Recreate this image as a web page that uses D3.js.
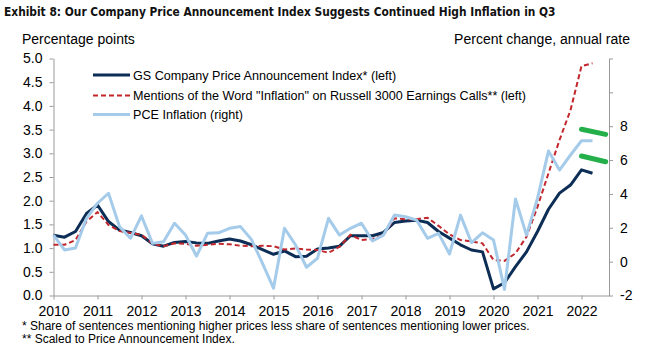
<!DOCTYPE html>
<html><head><meta charset="utf-8">
<script src="https://cdn.jsdelivr.net/npm/d3@7"></script>
<style>
html,body{margin:0;padding:0;background:#fff;}
svg{display:block;}
text{font-family:"Liberation Sans",Arial,Helvetica,sans-serif;fill:#000;}
</style></head><body>
<svg id="chart" width="649" height="355"></svg>
<script>
// ---- Data (quarterly) ----
const quarters = [
 "2010Q1","2010Q2","2010Q3","2010Q4",
 "2011Q1","2011Q2","2011Q3","2011Q4",
 "2012Q1","2012Q2","2012Q3","2012Q4",
 "2013Q1","2013Q2","2013Q3","2013Q4",
 "2014Q1","2014Q2","2014Q3","2014Q4",
 "2015Q1","2015Q2","2015Q3","2015Q4",
 "2016Q1","2016Q2","2016Q3","2016Q4",
 "2017Q1","2017Q2","2017Q3","2017Q4",
 "2018Q1","2018Q2","2018Q3","2018Q4",
 "2019Q1","2019Q2","2019Q3","2019Q4",
 "2020Q1","2020Q2","2020Q3","2020Q4",
 "2021Q1","2021Q2","2021Q3","2021Q4",
 "2022Q1","2022Q2"
];
// GS Company Price Announcement Index (left axis, percentage points)
const gsIndex = [
 1.27,1.23,1.35,1.73,
 1.91,1.56,1.38,1.33,
 1.26,1.09,1.04,1.12,
 1.14,1.11,1.10,1.15,
 1.19,1.15,1.07,0.97,
 0.87,0.94,0.82,0.83,
 0.98,1.00,1.04,1.26,
 1.26,1.26,1.33,1.54,
 1.57,1.59,1.54,1.35,
 1.21,1.07,0.96,0.92,
 0.14,0.27,0.61,0.92,
 1.35,1.82,2.16,2.33,
 2.65,2.58
];
// Mentions of "Inflation" on Russell 3000 earnings calls (left axis, scaled)
const inflationMentions = [
 1.07,1.07,1.17,1.56,
 1.76,1.49,1.36,1.32,
 1.28,1.10,1.04,1.10,
 1.09,1.05,1.07,1.09,
 1.08,1.05,1.04,1.05,
 1.04,0.97,0.99,0.97,
 0.96,0.90,1.03,1.28,
 1.17,1.19,1.28,1.63,
 1.61,1.61,1.64,1.47,
 1.29,1.17,1.14,1.10,
 0.75,0.73,0.89,1.24,
 1.87,2.58,3.28,3.91,
 4.84,4.90
];
// PCE inflation (right axis, % change annual rate)
const pceInflation = [
 1.57,0.69,0.80,2.56,
 3.45,4.04,2.07,1.38,
 2.70,1.08,1.18,2.27,
 1.57,0.33,1.67,1.70,
 1.97,2.07,1.30,-0.10,
 -1.57,1.97,0.99,-0.33,
 0.20,2.56,1.57,1.97,
 2.27,1.22,1.57,2.75,
 2.65,2.46,1.38,1.67,
 0.45,2.75,1.12,1.70,
 1.28,-1.64,3.70,1.57,
 3.74,6.54,5.41,6.30,
 7.14,7.14
];
// Green annotation marks (right-axis units)
const greenMarkX = [2022.0, 2022.55];
const greenMarkUpper = [7.82, 7.52];
const greenMarkLower = [6.24, 5.90];

const yearTicks = [2010,2011,2012,2013,2014,2015,2016,2017,2018,2019,2020,2021,2022];
const leftTicks = [0,0.5,1,1.5,2,2.5,3,3.5,4,4.5,5];
const rightTicks = [-2,0,2,4,6,8,10,12];
const rightTickLabels = ["-2","0","2","4","6","8","",""];
const seriesNames = [
 "GS Company Price Announcement Index* (left)",
 "Mentions of the Word \"Inflation\" on Russell 3000 Earnings Calls** (left)",
 "PCE Inflation (right)"
];
const titleText = "Exhibit 8: Our Company Price Announcement Index Suggests Continued High Inflation in Q3";
const leftAxisTitle = "Percentage points";
const rightAxisTitle = "Percent change, annual rate";
const footnotes = [
 "* Share of sentences mentioning higher prices less share of sentences mentioning lower prices.",
 "** Scaled to Price Announcement Index."
];

// ---- Drawing ----
const svg = d3.select("#chart");
const colors = {gs:"#0c2d55", mentions:"#c1272d", pce:"#a5cbea", green:"#23b04a", axis:"#9a9a9a"};

const qx = q => +q.slice(0,4) + (+q.slice(5)-1)/4;
const x = d3.scaleLinear().domain([2010, 2022.625]).range([53.5, 609]);
const yL = d3.scaleLinear().domain([0,5]).range([295.5, 58.5]);
const yR = d3.scaleLinear().domain([-2,12]).range([295.5, 58.5]);

// Title (narrow bold face, fitted to the reference width)
const title = svg.append("text").attr("x",4).attr("y",16)
  .style("font-family","'Liberation Sans Narrow','DejaVu Sans Condensed','Arial Narrow',sans-serif")
  .style("font-weight","bold").style("font-size","14px").style("fill","#111")
  .text(titleText);
const natW = title.node().getComputedTextLength();
if (natW > 0 && Math.abs(natW - 552) > 4) {
  const fs = 14 * 552 / natW;
  title.style("font-size", Math.min(16, Math.max(11, fs)) + "px");
}

svg.append("text").attr("x",22).attr("y",44).style("font-size","14px").text(leftAxisTitle);
svg.append("text").attr("x",630).attr("y",44).attr("text-anchor","end").style("font-size","14px").text(rightAxisTitle);

// Axes
function styleAxis(g){
  g.selectAll("path.domain").attr("stroke",colors.axis);
  g.selectAll(".tick line").attr("stroke",colors.axis);
  g.selectAll(".tick text").style("font-size","14px").style("font-family","'Liberation Sans',Arial,sans-serif").attr("fill","#000");
}
svg.append("g").attr("transform",`translate(${x.range()[0]},0)`)
  .call(d3.axisLeft(yL).tickValues(leftTicks).tickFormat(d3.format(".1f")).tickSize(4).tickPadding(7).tickSizeOuter(0))
  .call(styleAxis);
svg.append("g").attr("transform",`translate(${x.range()[1]},0)`)
  .call(d3.axisRight(yR).tickValues(rightTicks).tickFormat((d,i)=>rightTickLabels[i]).tickSize(4).tickPadding(7).tickSizeOuter(0))
  .call(styleAxis);
svg.append("g").attr("transform",`translate(0,${yL.range()[0]})`)
  .call(d3.axisBottom(x).tickValues(yearTicks).tickFormat(d3.format("d")).tickSize(4).tickPadding(7).tickSizeOuter(0))
  .call(styleAxis);

// Lines
const lineL = d3.line().x((d,i)=>x(qx(quarters[i]))).y(d=>yL(d));
const lineR = d3.line().x((d,i)=>x(qx(quarters[i]))).y(d=>yR(d));

svg.append("path").datum(gsIndex).attr("d",lineL)
  .attr("fill","none").attr("stroke",colors.gs).attr("stroke-width",3).attr("stroke-linejoin","round");
svg.append("path").datum(inflationMentions).attr("d",lineL)
  .attr("fill","none").attr("stroke",colors.mentions).attr("stroke-width",2).attr("stroke-dasharray","5,3");
svg.append("path").datum(pceInflation).attr("d",lineR)
  .attr("fill","none").attr("stroke",colors.pce).attr("stroke-width",3).attr("stroke-linejoin","round");

// Green annotation marks
[greenMarkUpper, greenMarkLower].forEach(vals=>{
  svg.append("line")
    .attr("x1",x(greenMarkX[0])).attr("y1",yR(vals[0]))
    .attr("x2",x(greenMarkX[1])).attr("y2",yR(vals[1]))
    .attr("stroke",colors.green).attr("stroke-width",5).attr("stroke-linecap","round");
});

// Legend
const legendY = [75, 95.5, 114.5];
const legendStyles = [
  {c:colors.gs, w:3, dash:null},
  {c:colors.mentions, w:2, dash:"5,3"},
  {c:colors.pce, w:3, dash:null}
];
seriesNames.forEach((name,i)=>{
  const g = svg.append("g");
  g.append("line").attr("x1",93).attr("x2",130).attr("y1",legendY[i]).attr("y2",legendY[i])
    .attr("stroke",legendStyles[i].c).attr("stroke-width",legendStyles[i].w)
    .attr("stroke-dasharray",legendStyles[i].dash);
  g.append("text").attr("x",133).attr("y",legendY[i]).attr("dy","0.36em")
    .style("font-size","12.6px").text(name);
});

// Footnotes
svg.append("text").attr("x",22).attr("y",330).style("font-size","12px").text(footnotes[0]);
svg.append("text").attr("x",22).attr("y",343).style("font-size","12px").text(footnotes[1]);
</script>
</body></html>
